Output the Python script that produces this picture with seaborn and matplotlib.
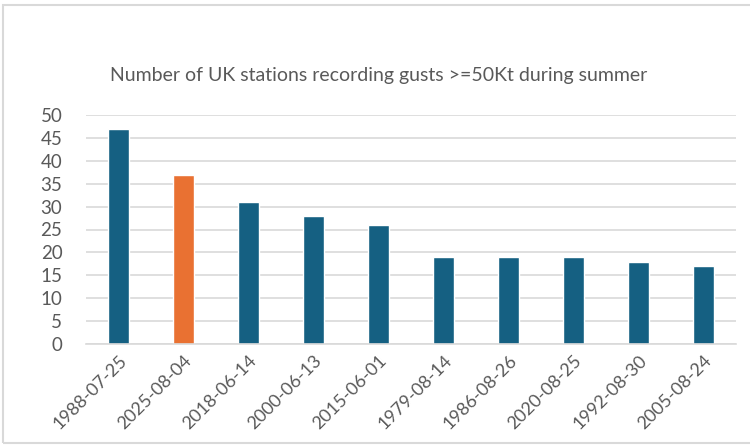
import numpy as np
import matplotlib
matplotlib.use("Agg")
import matplotlib.pyplot as plt
import pandas as pd
import seaborn as sns
from matplotlib.patches import Rectangle

sns.set_theme(style="white")
plt.rcParams['font.family'] = ['Lato', 'DejaVu Sans']

dates = ["1988-07-25", "2025-08-04", "2018-06-14", "2000-06-13", "2015-06-01",
         "1979-08-14", "1986-08-26", "2020-08-25", "1992-08-30", "2005-08-24"]
stations = [47, 37, 31, 28, 26, 19, 19, 19, 18, 17]
highlight = "2025-08-04"

df = pd.DataFrame({"date": dates, "stations": stations})
palette = {d: ("#E97132" if d == highlight else "#156082") for d in dates}

fig = plt.figure(figsize=(7.5, 4.46), dpi=100)
ax = fig.add_axes([86 / 750, 1 - 344 / 446, 650 / 750, 229 / 446])

sns.barplot(data=df, x="date", y="stations", hue="date", palette=palette,
            width=0.31, legend=False, ax=ax, saturation=1)

ax.set_ylim(0, 50)
ax.set_yticks(range(0, 51, 5))
ax.yaxis.grid(True, color="#d9d9d9", linewidth=1.2)
ax.set_axisbelow(True)
for s in ["top", "right", "left"]:
    ax.spines[s].set_visible(False)
ax.spines["bottom"].set_color("#d9d9d9")
ax.spines["bottom"].set_linewidth(1.2)
ax.set_xlabel("")
ax.set_ylabel("")
ax.tick_params(axis="y", length=0, labelsize=13.5, labelcolor="#595959", pad=17)
ax.tick_params(axis="x", length=0, labelsize=13, labelcolor="#595959", pad=6)
plt.setp(ax.get_xticklabels(), rotation=45, ha="right", rotation_mode="anchor")

fig.text(0.505, 1 - 75 / 446, "Number of UK stations recording gusts >=50Kt during summer",
         ha="center", va="center", fontsize=14, color="#595959")

fig.patches.append(Rectangle((3 / 750, 3 / 446), 760 / 750, 438 / 446,
                             transform=fig.transFigure, fill=False,
                             edgecolor="#d9d9d9", linewidth=1.5))

fig.savefig("out.png", dpi=100, facecolor="white")
